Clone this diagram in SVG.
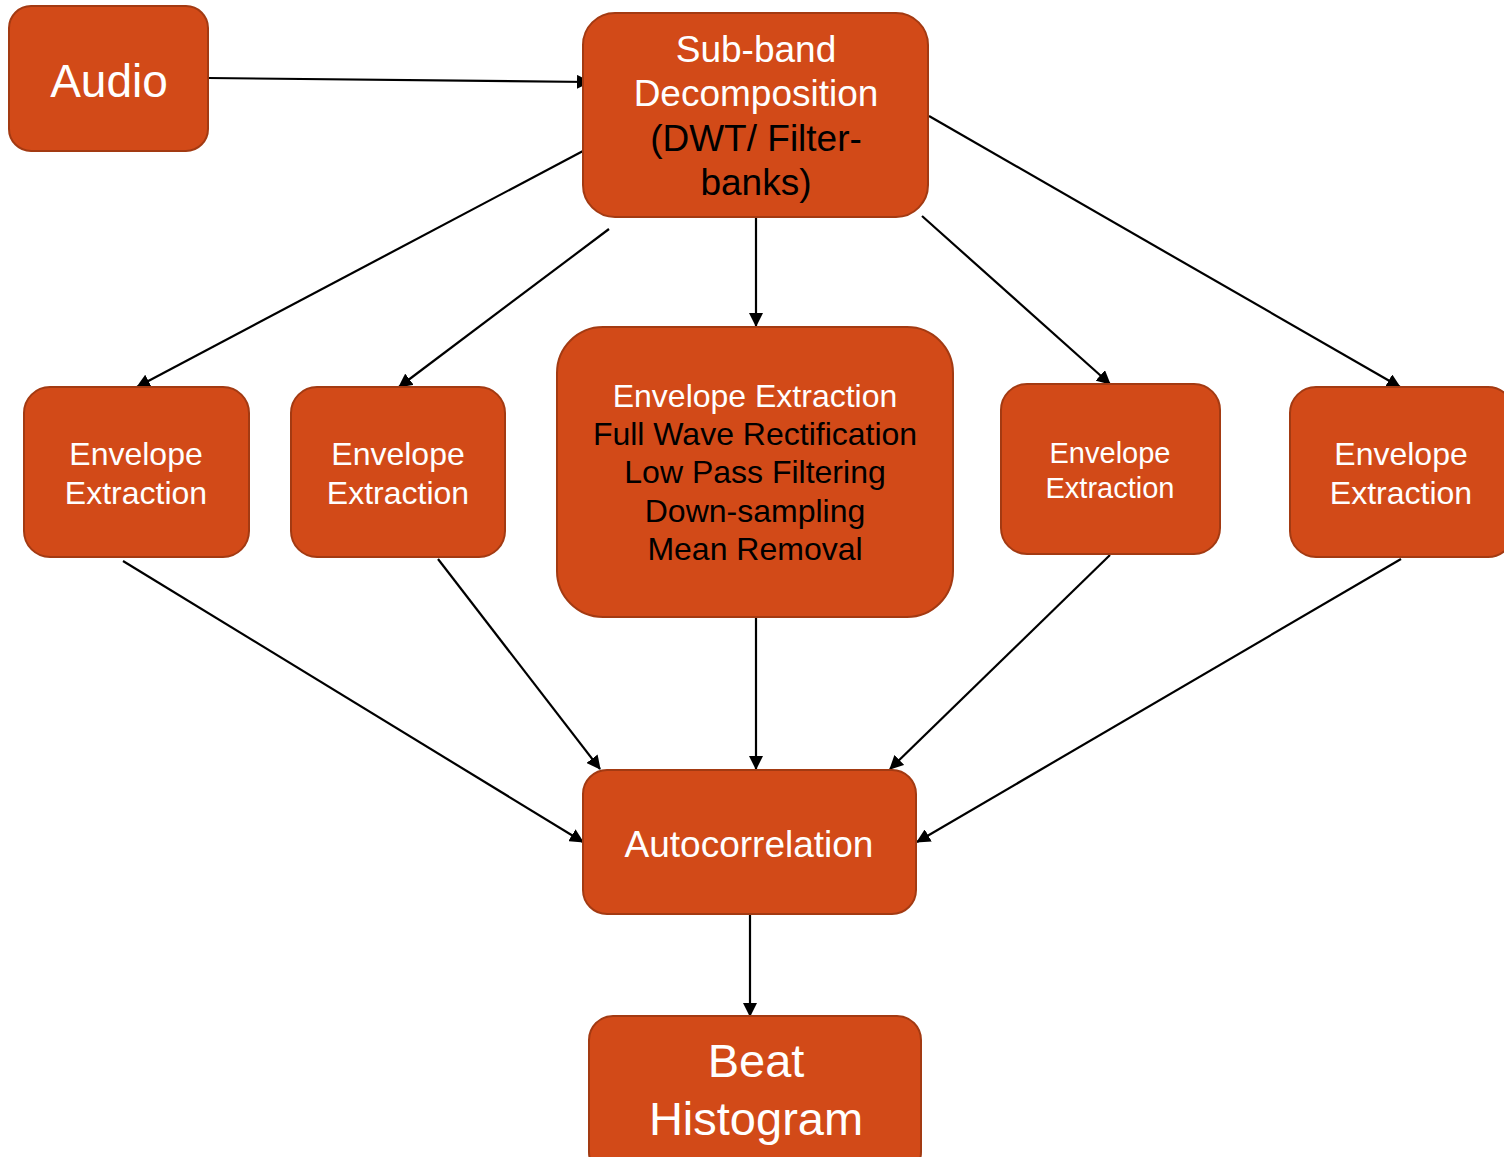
<svg xmlns="http://www.w3.org/2000/svg" width="1504" height="1157" viewBox="0 0 1504 1157">
<style>
.box{fill:#D24A18;stroke:#A33A12;stroke-width:2}
text{font-family:"Liberation Sans",Arial,sans-serif;text-anchor:middle}
.w{fill:#ffffff}
.k{fill:#000000}
.c{stroke:#000;stroke-width:2.2;fill:none;marker-end:url(#ah)}
</style>
<defs>
<marker id="ah" viewBox="0 0 14 14" refX="13" refY="7" markerWidth="14" markerHeight="14" markerUnits="userSpaceOnUse" orient="auto">
<path d="M0,0 L14,7 L0,14 z" fill="#000"/>
</marker>
</defs>
<g id="connectors">
<line class="c" x1="208" y1="78" x2="590" y2="82"/>
<line class="c" x1="583" y1="151" x2="137" y2="387"/>
<line class="c" x1="609" y1="229" x2="399" y2="387"/>
<line class="c" x1="756" y1="217" x2="756" y2="326"/>
<line class="c" x1="922" y1="216" x2="1110" y2="384"/>
<line class="c" x1="929" y1="116" x2="1400" y2="387"/>
<line class="c" x1="123" y1="561" x2="583" y2="842"/>
<line class="c" x1="438" y1="559" x2="600" y2="769"/>
<line class="c" x1="756" y1="617" x2="756" y2="769"/>
<line class="c" x1="1110" y1="555" x2="890" y2="769"/>
<line class="c" x1="1401" y1="559" x2="917" y2="842"/>
<line class="c" x1="750" y1="914" x2="750" y2="1016"/>
</g>
<g id="audio">
<rect class="box" x="9" y="6" width="199" height="145" rx="22"/>
<text class="w" x="109" y="97" font-size="46">Audio</text>
</g>
<g id="subband">
<rect class="box" x="583" y="13" width="345" height="204" rx="32"/>
<text class="w" x="756" y="62" font-size="37">Sub-band</text>
<text class="w" x="756" y="106" font-size="37">Decomposition</text>
<text class="k" x="756" y="151" font-size="37">(DWT/ Filter-</text>
<text class="k" x="756" y="195" font-size="37">banks)</text>
</g>
<g id="env1">
<rect class="box" x="24" y="387" width="225" height="170" rx="26"/>
<text class="w" x="136" y="465" font-size="32">Envelope</text>
<text class="w" x="136" y="504" font-size="32">Extraction</text>
</g>
<g id="env2">
<rect class="box" x="291" y="387" width="214" height="170" rx="26"/>
<text class="w" x="398" y="465" font-size="32">Envelope</text>
<text class="w" x="398" y="504" font-size="32">Extraction</text>
</g>
<g id="envcenter">
<rect class="box" x="557" y="327" width="396" height="290" rx="46"/>
<text class="w" x="755" y="407" font-size="32">Envelope Extraction</text>
<text class="k" x="755" y="445" font-size="32">Full Wave Rectification</text>
<text class="k" x="755" y="483" font-size="32">Low Pass Filtering</text>
<text class="k" x="755" y="522" font-size="32">Down-sampling</text>
<text class="k" x="755" y="560" font-size="32">Mean Removal</text>
</g>
<g id="env4">
<rect class="box" x="1001" y="384" width="219" height="170" rx="26"/>
<text class="w" x="1110" y="463" font-size="29">Envelope</text>
<text class="w" x="1110" y="498" font-size="29">Extraction</text>
</g>
<g id="env5">
<rect class="box" x="1290" y="387" width="224" height="170" rx="26"/>
<text class="w" x="1401" y="465" font-size="32">Envelope</text>
<text class="w" x="1401" y="504" font-size="32">Extraction</text>
</g>
<g id="autocorrelation">
<rect class="box" x="583" y="770" width="333" height="144" rx="24"/>
<text class="w" x="749" y="857" font-size="37">Autocorrelation</text>
</g>
<g id="beathistogram">
<rect class="box" x="589" y="1016" width="332" height="160" rx="24"/>
<text class="w" x="756" y="1077" font-size="47">Beat</text>
<text class="w" x="756" y="1135" font-size="47">Histogram</text>
</g>
</svg>
